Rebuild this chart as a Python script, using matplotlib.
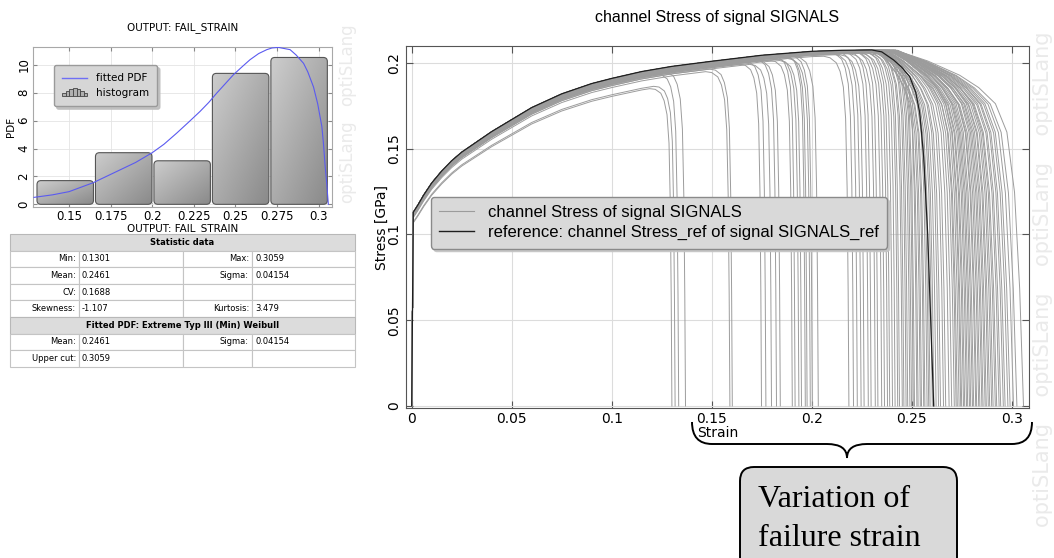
import numpy as np
import matplotlib
matplotlib.use("Agg")
import matplotlib.pyplot as plt
from matplotlib.patches import FancyBboxPatch, Rectangle, PathPatch
from matplotlib.path import Path
from matplotlib.lines import Line2D
from matplotlib.legend_handler import HandlerBase
from matplotlib.colors import LinearSegmentedColormap

# ---- left: histogram of failure strain ----
hist_edges = [0.1301, 0.16526, 0.20042, 0.23558, 0.27074, 0.3059]
hist_density = [1.70, 3.70, 3.12, 9.38, 10.52]

pdf_x = [0.1289, 0.140, 0.150, 0.1645, 0.1805, 0.190, 0.200, 0.207, 0.2147, 0.222,
         0.2287, 0.234, 0.2388, 0.244, 0.2488, 0.254, 0.2588, 0.264, 0.2689, 0.272,
         0.2759, 0.2829, 0.2865, 0.2910, 0.2935, 0.2970, 0.2995, 0.3020, 0.3030,
         0.3040, 0.3050, 0.3059]
pdf_y = [0.50, 0.68, 0.91, 1.55, 2.46, 3.00, 3.70, 4.30, 5.10, 5.90,
         6.65, 7.30, 7.97, 8.65, 9.28, 9.85, 10.36, 10.80, 11.08, 11.20,
         11.24, 11.08, 10.70, 10.10, 9.50, 8.40, 7.20, 5.57, 4.30,
         2.70, 1.40, 0.0]

hist_xticks = [0.15, 0.175, 0.2, 0.225, 0.25, 0.275, 0.3]
hist_xticklabels = ["0.15", "0.175", "0.2", "0.225", "0.25", "0.275", "0.3"]
hist_yticks = [0, 2, 4, 6, 8, 10]

# ---- statistics table ----
stat_header = "Statistic data"
stat_rows = [
    ["Min:", "0.1301", "Max:", "0.3059"],
    ["Mean:", "0.2461", "Sigma:", "0.04154"],
    ["CV:", "0.1688", "", ""],
    ["Skewness:", "-1.107", "Kurtosis:", "3.479"],
]
fit_header = "Fitted PDF: Extreme Typ III (Min) Weibull"
fit_rows = [
    ["Mean:", "0.2461", "Sigma:", "0.04154"],
    ["Upper cut:", "0.3059", "", ""],
]

# ---- right: stress-strain signals ----
ref_strain = [0, 0.0008, 0.003, 0.006, 0.01, 0.015, 0.02, 0.025, 0.03, 0.04, 0.05,
              0.06, 0.075, 0.09, 0.1, 0.115, 0.13, 0.15, 0.175, 0.2, 0.215, 0.23]
ref_stress = [0, 0.113, 0.117, 0.123, 0.130, 0.137, 0.143, 0.148, 0.152, 0.160, 0.167,
              0.174, 0.182, 0.188, 0.191, 0.195, 0.198, 0.201, 0.2045, 0.2068, 0.2074, 0.2076]
ref_drop_strain = [0.235, 0.241, 0.245, 0.249, 0.252, 0.254, 0.256, 0.258, 0.2595, 0.261]
ref_drop_stress = [0.2065, 0.2017, 0.1975, 0.192, 0.183, 0.171, 0.145, 0.10, 0.05, 0.0]

fail_strain = [
    0.1301, 0.1317, 0.1335, 0.1369, 0.1591, 0.1603,
    0.1749, 0.1771, 0.1799, 0.1824, 0.1843, 0.1903, 0.1917, 0.1936, 0.1949, 0.1968,
    0.1977, 0.1993, 0.2003,
    0.2033, 0.2186, 0.2209, 0.2228, 0.2247, 0.2262, 0.2283, 0.2297, 0.2318, 0.2331, 0.2350,
    0.2364, 0.2379, 0.2390, 0.2404, 0.2417, 0.2430, 0.2439, 0.2453, 0.2461, 0.2472,
    0.2480, 0.2491, 0.2499, 0.2508, 0.2514, 0.2526, 0.2532, 0.2543, 0.2549, 0.2560,
    0.2566, 0.2577, 0.2585, 0.2592, 0.2603, 0.2611, 0.2622, 0.2634, 0.2644, 0.2659,
    0.2670, 0.2687, 0.2700,
    0.2713, 0.2722, 0.2728, 0.2737, 0.2745, 0.2750, 0.2759, 0.2765, 0.2774, 0.2780,
    0.2789, 0.2795, 0.2804, 0.2810, 0.2820, 0.2825, 0.2835, 0.2841, 0.2851, 0.2857,
    0.2867, 0.2873, 0.2883, 0.2890, 0.2900, 0.2907, 0.2918, 0.2925, 0.2937, 0.2945,
    0.2958, 0.2967, 0.2981, 0.2992, 0.3009, 0.3026, 0.3059,
]
soft_onset = [
    0.119, 0.121, 0.122, 0.125, 0.147, 0.149,
    0.164, 0.166, 0.169, 0.171, 0.173, 0.179, 0.181, 0.182, 0.184, 0.186,
    0.187, 0.188, 0.189,
    0.191, 0.206, 0.209, 0.211, 0.212, 0.214, 0.216, 0.218, 0.219, 0.221, 0.222,
    0.223, 0.224, 0.225, 0.226, 0.227, 0.228, 0.228, 0.229, 0.229, 0.230,
    0.230, 0.231, 0.231, 0.232, 0.232, 0.233, 0.233, 0.233, 0.234, 0.234,
    0.234, 0.235, 0.235, 0.235, 0.236, 0.236, 0.236, 0.237, 0.237, 0.237,
    0.238, 0.238, 0.238,
    0.238, 0.239, 0.238, 0.239, 0.240, 0.239, 0.240, 0.239, 0.240, 0.241,
    0.240, 0.241, 0.240, 0.241, 0.242, 0.241, 0.240, 0.242, 0.241, 0.242,
    0.241, 0.242, 0.243, 0.241, 0.242, 0.243, 0.242, 0.241, 0.243, 0.242,
    0.243, 0.242, 0.243, 0.242, 0.243, 0.242, 0.242,
]
stress_level = [
    0.945, 0.950, 0.985, 0.990, 0.972, 0.978,
    0.982, 0.990, 0.978, 0.992, 0.986, 0.984, 0.994, 0.988, 0.981, 0.995,
    0.990, 0.985, 0.993,
    0.990, 0.985, 0.995, 0.990, 0.998, 0.988, 0.994, 0.997, 0.990, 0.996, 0.993,
    0.996, 0.992, 0.998, 0.994, 0.997, 0.991, 0.999, 0.995, 0.993, 0.998,
    0.996, 0.992, 0.999, 0.994, 0.997, 0.995, 0.998, 0.993, 0.999, 0.996,
    0.994, 0.998, 0.995, 0.999, 0.993, 0.997, 0.996, 0.999, 0.994, 0.998,
    0.995, 0.997, 0.999,
    0.996, 0.999, 0.994, 0.998, 0.997, 0.999, 0.995, 0.998, 0.996, 0.999,
    0.997, 0.994, 0.998, 0.999, 0.996, 0.998, 0.995, 0.999, 0.997, 0.998,
    0.996, 0.999, 0.994, 0.998, 0.997, 0.999, 0.996, 0.998, 0.995, 0.999,
    0.997, 0.998, 0.996, 0.999, 0.997, 0.998, 0.999,
]
# softening shape after onset (fraction of onset->failure span, fraction of stress kept)
knee_u = [0, 0.25, 0.5, 0.65, 0.78, 0.87, 0.93, 0.97, 1.0]
knee_sharp = [1, 0.995, 0.98, 0.955, 0.91, 0.82, 0.62, 0.33, 0]
knee_slow = [1, 0.97, 0.93, 0.895, 0.85, 0.77, 0.60, 0.33, 0]

x_ticks = [0, 0.05, 0.1, 0.15, 0.2, 0.25, 0.3]
x_ticklabels = ["0", "0.05", "0.1", "0.15", "0.2", "0.25", "0.3"]
y_ticks = [0, 0.05, 0.1, 0.15, 0.2]
y_ticklabels = ["0", "0.05", "0.1", "0.15", "0.2"]

W, H = 1054, 558


def px_axes(fig, x0, y0, x1, y1):
    # pixel box (top-left origin) -> figure axes
    return fig.add_axes([x0 / W, 1 - y1 / H, (x1 - x0) / W, (y1 - y0) / H])


class HistIcon:
    pass


class HistIconHandler(HandlerBase):
    def create_artists(self, legend, orig_handle, xdescent, ydescent, width, height,
                       fontsize, trans):
        rel = [0.35, 0.55, 0.85, 1.0, 0.85, 0.55, 0.35]
        bw = width / len(rel)
        out = []
        for k, r in enumerate(rel):
            out.append(Rectangle((-xdescent + k * bw, -ydescent), bw, height * 1.15 * r,
                                 transform=trans, facecolor="#b0b0b0",
                                 edgecolor="#444444", lw=0.6))
        return out


fig = plt.figure(figsize=(W / 100, H / 100), dpi=100)

# ================= histogram =================
axh = px_axes(fig, 33, 47, 332, 207)
cmap = LinearSegmentedColormap.from_list("bar", ["#cdcdcd", "#8a8a8a"])
grad = np.add.outer(np.linspace(0, 1, 60), np.linspace(0, 1, 60)) / 2.0
gap = 0.0006
for x0, x1, h in zip(hist_edges[:-1], hist_edges[1:], hist_density):
    bx0, bx1 = x0 + gap, x1 - gap
    patch = FancyBboxPatch((bx0, 0), bx1 - bx0, h,
                           boxstyle="round,pad=0,rounding_size=0.0024",
                           mutation_aspect=120, facecolor="none",
                           edgecolor="#555555", lw=0.8, zorder=3)
    axh.add_patch(patch)
    im = axh.imshow(grad, extent=[bx0, bx1, 0, h], origin="upper", cmap=cmap,
                    aspect="auto", zorder=2, interpolation="bilinear")
    im.set_clip_path(patch)
axh.plot(pdf_x, pdf_y, color="#5a5af0", lw=0.8, zorder=4)
axh.set_xlim(0.1283, 0.3081)
axh.set_ylim(-0.19, 11.27)
axh.set_xticks(hist_xticks)
axh.set_xticklabels(hist_xticklabels)
axh.set_yticks(hist_yticks)
axh.tick_params(direction="in", length=3, top=True, right=True, labelsize=8.5,
                pad=2, color="#888888")
for lab in axh.get_yticklabels():
    lab.set_rotation(90)
    lab.set_va("center")
axh.grid(True, color="#e4e4e4", lw=0.6)
axh.set_axisbelow(True)
for sp in axh.spines.values():
    sp.set_color("#a8a8a8")
axh.set_title("OUTPUT: FAIL_STRAIN", fontsize=7.5, pad=12)
axh.set_xlabel("OUTPUT: FAIL_STRAIN", fontsize=7.5, labelpad=0)
axh.set_ylabel("PDF", fontsize=7.5)
axh.yaxis.set_label_coords(-0.056, 0.5)
lg = axh.legend([Line2D([], [], color="#6f6ff5", lw=1.0), HistIcon()],
                ["fitted PDF", "histogram"],
                handler_map={HistIcon: HistIconHandler()},
                loc="upper left", bbox_to_anchor=(0.07, 0.8875), borderaxespad=0,
                fontsize=7.5, fancybox=True, shadow={"color": "#bdbdbd", "alpha": 0.9},
                framealpha=1, handlelength=2.4, handletextpad=0.8, borderpad=0.8,
                labelspacing=0.45)
lg.get_frame().set_facecolor("#d6d6d6")
lg.get_frame().set_edgecolor("#9a9a9a")

# ================= stress-strain =================
ax = px_axes(fig, 405.7, 46, 1029.3, 408)
ref_e = np.array(ref_strain)
ref_s = np.array(ref_stress)
for ef, on, lev in zip(fail_strain, soft_onset, stress_level):
    w = ef - on
    g = np.array(knee_sharp if w < 0.02 else knee_slow)
    e_pre = ref_e[ref_e < on]
    e_post = on + w * np.array(knee_u)
    e = np.concatenate([e_pre, e_post])
    s = lev * np.interp(e, ref_e, ref_s)
    s[len(e_pre):] *= g
    ax.plot(e, s, color="#9c9c9c", lw=0.7, zorder=2)
ax.plot(ref_strain + ref_drop_strain, ref_stress + ref_drop_stress,
        color="#1e1e1e", lw=0.9, zorder=3)

ax.set_xlim(-0.003, 0.3088)
ax.set_ylim(-0.0012, 0.2099)
ax.set_xticks(x_ticks)
ax.set_xticklabels(x_ticklabels)
ax.set_yticks(y_ticks)
ax.set_yticklabels(y_ticklabels)
ax.tick_params(direction="in", length=5, top=True, right=True, labelsize=10,
               pad=3, color="#555555")
for lab in ax.get_yticklabels():
    lab.set_rotation(90)
    lab.set_va("center")
ax.grid(True, color="#dcdcdc", lw=0.8)
ax.set_axisbelow(True)
for sp in ax.spines.values():
    sp.set_color("#555555")
ax.set_title("channel Stress of signal SIGNALS", fontsize=11.5,
             family="Liberation Sans", pad=17)
ax.set_xlabel("Strain", fontsize=10, labelpad=0)
ax.set_ylabel("Stress [GPa]", fontsize=10)
ax.yaxis.set_label_coords(-0.027, 0.5)
lg2 = ax.legend([Line2D([], [], color="#9c9c9c", lw=0.8),
                 Line2D([], [], color="#1e1e1e", lw=1.0)],
                ["channel Stress of signal SIGNALS",
                 "reference: channel Stress_ref of signal SIGNALS_ref"],
                loc="upper left", bbox_to_anchor=(0.0406, 0.583), borderaxespad=0,
                prop={"family": "Liberation Sans", "size": 12},
                fancybox=True, shadow={"color": "#c4c4c4", "alpha": 0.9}, framealpha=1,
                handlelength=2.1, handletextpad=0.8, borderpad=0.5, labelspacing=0.3)
lg2.get_frame().set_facecolor("#d9d9d9")
lg2.get_frame().set_edgecolor("#8a8a8a")

# ================= overlay: table, brace, note, watermark =================
ov = fig.add_axes([0, 0, 1, 1])
ov.set_xlim(0, W)
ov.set_ylim(H, 0)
ov.axis("off")
ov.patch.set_visible(False)

col_x = [10, 79, 183, 252, 355]
row_h = 16.6
y = 234
table = [("h", stat_header)] + [("r", r) for r in stat_rows] + \
        [("h", fit_header)] + [("r", r) for r in fit_rows]
for kind, content in table:
    if kind == "h":
        ov.add_patch(Rectangle((col_x[0], y), col_x[-1] - col_x[0], row_h,
                               facecolor="#dcdcdc", edgecolor="#b8b8b8", lw=0.8))
        ov.text((col_x[0] + col_x[-1]) / 2, y + row_h / 2, content, ha="center",
                va="center", fontsize=6, fontweight="bold")
    else:
        for c in range(4):
            ov.add_patch(Rectangle((col_x[c], y), col_x[c + 1] - col_x[c], row_h,
                                   facecolor="white", edgecolor="#c4c4c4", lw=0.8))
        ov.text(col_x[1] - 3, y + row_h / 2, content[0], ha="right", va="center", fontsize=6)
        ov.text(col_x[1] + 3, y + row_h / 2, content[1], ha="left", va="center", fontsize=6)
        ov.text(col_x[3] - 3, y + row_h / 2, content[2], ha="right", va="center", fontsize=6)
        ov.text(col_x[3] + 3, y + row_h / 2, content[3], ha="left", va="center", fontsize=6)
    y += row_h

# curly brace under the strain axis
by, tip = 444, (847, 458)
verts = [(692, 422), (692, by), (712, by), (827, by), (tip[0], by), tip,
         (tip[0], by), (867, by), (1012, by), (1032, by), (1032, 422)]
codes = [Path.MOVETO, Path.CURVE3, Path.CURVE3, Path.LINETO, Path.CURVE3, Path.CURVE3,
         Path.CURVE3, Path.CURVE3, Path.LINETO, Path.CURVE3, Path.CURVE3]
ov.add_patch(PathPatch(Path(verts, codes), facecolor="none", edgecolor="black", lw=1.4))

ov.add_patch(FancyBboxPatch((740, 467), 217, 120, boxstyle="round,pad=0,rounding_size=14",
                            facecolor="#d9d9d9", edgecolor="black", lw=1.4))
ov.text(758, 507, "Variation of", fontsize=23, family="Liberation Serif", va="baseline")
ov.text(758, 546, "failure strain", fontsize=23, family="Liberation Serif", va="baseline")

wm = "#eaeaea"
ov.text(347, 65, "optiSLang", rotation=90, ha="center", va="center", fontsize=12, color=wm)
ov.text(347, 162, "optiSLang", rotation=90, ha="center", va="center", fontsize=12, color=wm)
ov.text(1043, 279, "optiSLang    optiSLang    optiSLang    optiSLang", rotation=90,
        ha="center", va="center", fontsize=15, color=wm)

fig.savefig("out.png", dpi=100)
